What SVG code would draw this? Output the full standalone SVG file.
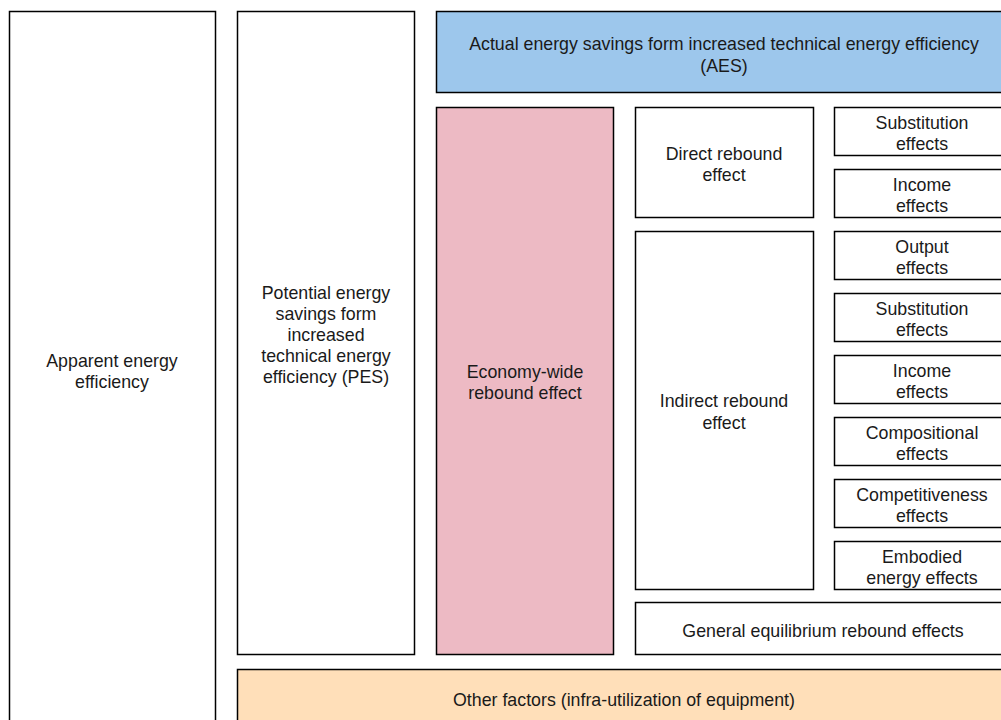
<svg xmlns="http://www.w3.org/2000/svg" width="1001" height="720" viewBox="0 0 1001 720">
<style>
rect{stroke:#000;stroke-width:1.5;fill:#fff}
.blue{fill:#9dc7ec}
.pink{fill:#edbac4}
.orange{fill:#ffdfb9}
text{font-family:"Liberation Sans",Arial,sans-serif;font-size:17.8px;fill:#1a1a1a;text-anchor:middle}
</style>
<rect width="1001" height="720" style="fill:#fff;stroke:none"/>
<g id="connectors"></g>
<g transform="translate(0,0)">
<g id="apparent"><rect x="9.5" y="11.5" width="206" height="720"/><text x="112" y="367">Apparent energy</text><text x="112" y="388">efficiency</text></g>
<g id="pes"><rect x="237.5" y="11.5" width="177" height="643"/>
<text x="326" y="299">Potential energy</text><text x="326" y="320">savings form</text><text x="326" y="341">increased</text><text x="326" y="362">technical energy</text><text x="326" y="383">efficiency (PES)</text></g>
<g id="aes"><rect class="blue" x="436.5" y="11.5" width="576" height="81"/><text x="724" y="50">Actual energy savings form increased technical energy efficiency</text><text x="724" y="72">(AES)</text></g>
<g id="economy"><rect class="pink" x="436.5" y="107.5" width="177" height="547"/><text x="525" y="378">Economy-wide</text><text x="525" y="399">rebound effect</text></g>
<g id="direct"><rect x="635.5" y="107.5" width="178" height="110"/><text x="724" y="160">Direct rebound</text><text x="724" y="181">effect</text></g>
<g id="indirect"><rect x="635.5" y="231.5" width="178" height="358"/><text x="724" y="407">Indirect rebound</text><text x="724" y="429">effect</text></g>
<g id="subst1"><rect x="834.5" y="107.5" width="176" height="48"/><text x="922" y="129">Substitution</text><text x="922" y="150">effects</text></g>
<g id="income1"><rect x="834.5" y="169.5" width="176" height="48"/><text x="922" y="191">Income</text><text x="922" y="212">effects</text></g>
<g id="output"><rect x="834.5" y="231.5" width="176" height="48"/><text x="922" y="253">Output</text><text x="922" y="274">effects</text></g>
<g id="subst2"><rect x="834.5" y="293.5" width="176" height="48"/><text x="922" y="315">Substitution</text><text x="922" y="336">effects</text></g>
<g id="income2"><rect x="834.5" y="355.5" width="176" height="48"/><text x="922" y="377">Income</text><text x="922" y="398">effects</text></g>
<g id="compositional"><rect x="834.5" y="417.5" width="176" height="48"/><text x="922" y="439">Compositional</text><text x="922" y="460">effects</text></g>
<g id="competitiveness"><rect x="834.5" y="479.5" width="176" height="48"/><text x="922" y="501">Competitiveness</text><text x="922" y="522">effects</text></g>
<g id="embodied"><rect x="834.5" y="541.5" width="176" height="48"/><text x="922" y="563">Embodied</text><text x="922" y="584">energy effects</text></g>
<g id="general"><rect x="635.5" y="602.5" width="376" height="52"/><text x="823" y="637">General equilibrium rebound effects</text></g>
<g id="other"><rect class="orange" x="237.5" y="669.5" width="775" height="80"/><text x="624" y="706">Other factors (infra-utilization of equipment)</text></g>
</g>
</svg>
